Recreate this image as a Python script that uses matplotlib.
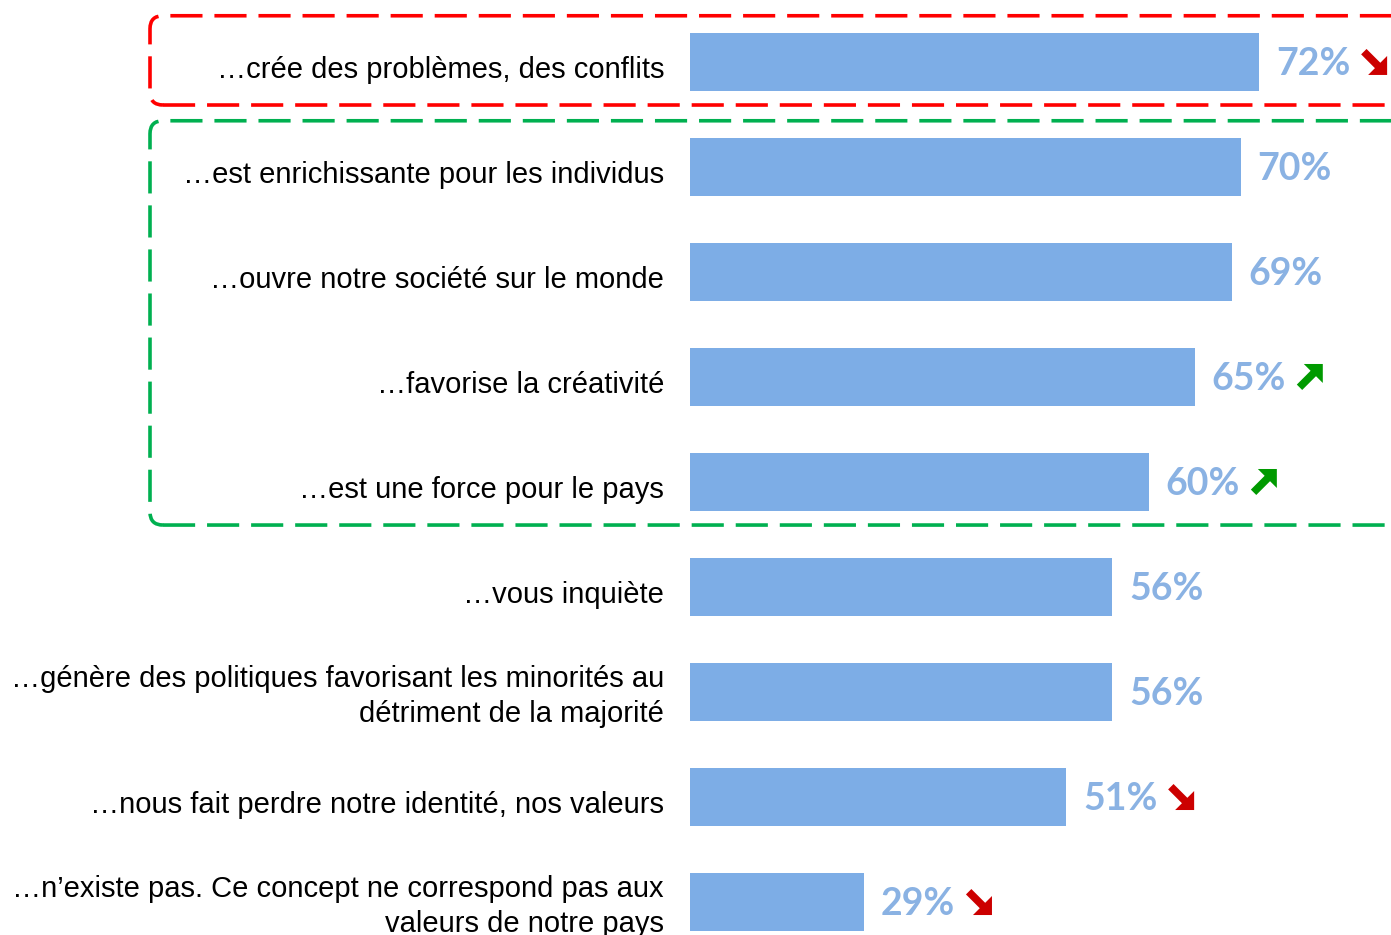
import matplotlib
matplotlib.use("Agg")
import matplotlib.pyplot as plt
from matplotlib.patches import FancyBboxPatch, Polygon
from matplotlib.transforms import ScaledTranslation

labels = [
    "…crée des problèmes, des conflits",
    "…est enrichissante pour les individus",
    "…ouvre notre société sur le monde",
    "…favorise la créativité",
    "…est une force pour le pays",
    "…vous inquiète",
    "…génère des politiques favorisant les minorités au\ndétriment de la majorité",
    "…nous fait perdre notre identité, nos valeurs",
    "…n’existe pas. Ce concept ne correspond pas aux\nvaleurs de notre pays",
]
values = [72, 70, 69, 65, 60, 56, 56, 51, 29]
trends = ["down", None, None, "up", "up", None, None, "down", "down"]

BAR = "#7DADE6"
VAL = "#8AB2E3"
RED = "#CC0000"
GREEN = "#009A00"

DPI = 100
W, H = 1391, 935
fig = plt.figure(figsize=(W / DPI, H / DPI), dpi=DPI)
ax = fig.add_axes([690 / W, 0, (W - 690) / W, 1])

ys = list(range(len(values)))
ax.barh(ys, values, height=0.55, color=BAR)
ax.set_xlim(10.07, 86.35)
ax.set_ylim(8.314, -0.590)
for s in ax.spines.values():
    s.set_visible(False)
ax.set_xticks([])
ax.set_yticks(ys, labels, fontsize=21, family="Liberation Sans")
ax.tick_params(axis="y", length=0, pad=18.7)
for lab, txt in zip(ax.get_yticklabels(), labels):
    lab.set_linespacing(1.33)
    dy = -2 if "\n" in txt else 5
    lab.set_transform(lab.get_transform() + ScaledTranslation(0, -dy / DPI, fig.dpi_scale_trans))

# percentage labels
for y, v in zip(ys, values):
    ax.annotate(f"{v}%", xy=(v, y), xytext=(12.2, -9.7), textcoords="offset points",
                ha="left", va="baseline", fontsize=27, fontweight="bold",
                family="Lato", color=VAL, annotation_clip=False)

# trend arrows, drawn in pixels relative to bar end
up = [(26, 26), (7, 26), (13.8, 19.2), (0, 5.4), (5.4, 0), (19.2, 13.8), (26, 7)]
for y, v, t in zip(ys, values, trends):
    if t is None:
        continue
    sign = 1 if t == "up" else -1
    pts = [((102 + px) / DPI, sign * (py - 13) / DPI) for px, py in up]
    trans = fig.dpi_scale_trans + ScaledTranslation(v, y, ax.transData)
    ax.add_patch(Polygon(pts, closed=True, transform=trans,
                         color=GREEN if t == "up" else RED, clip_on=False, lw=0))

# dashed group boxes (figure inches)
def group_box(top_row, bottom_row, color):
    inv = fig.dpi_scale_trans.inverted()
    _, y_top = inv.transform(ax.transData.transform((0, top_row - 0.44)))
    _, y_bot = inv.transform(ax.transData.transform((0, bottom_row + 0.41)))
    x0 = 150 / DPI
    box = FancyBboxPatch((x0, y_bot), 14.5 - x0, y_top - y_bot,
                         boxstyle="round,pad=0,rounding_size=0.13",
                         transform=fig.dpi_scale_trans, fill=False,
                         edgecolor=color, lw=2.6, linestyle=(0, (8.9, 3.3)),
                         clip_on=False)
    fig.add_artist(box)

group_box(0, 0, "#FF0000")
group_box(1, 4, "#00B050")

fig.savefig("out.png", dpi=DPI)
